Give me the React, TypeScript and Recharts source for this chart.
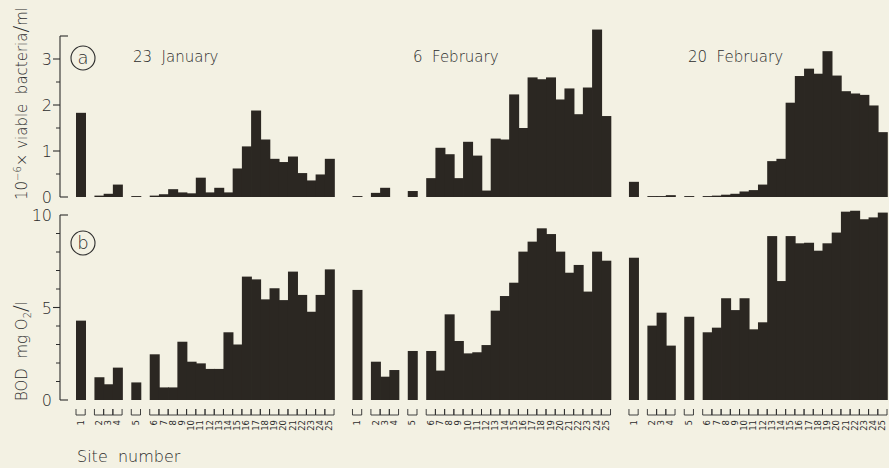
import React from 'react';
import { BarChart, Bar, XAxis, YAxis } from 'recharts';

// ---------- data ----------
const SITES = ['1','2','3','4','5','6','7','8','9','10','11','12','13','14','15','16','17','18','19','20','21','22','23','24','25'];
const DATES = ['23  January', '6  February', '20  February'];

// 10^-6 x viable bacteria / ml
const bacteriaJan23 = [1.83,0.03,0.07,0.27,0.02, 0.03,0.06,0.17,0.1,0.08,0.42,0.1,0.2,0.1,0.62,1.1,1.88,1.25,0.83,0.76,0.88,0.52,0.36,0.49,0.83];
const bacteriaFeb6 = [0.02,0.09,0.2,0,0.13, 0.41,1.07,0.93,0.41,1.2,0.9,0.14,1.27,1.25,2.23,1.5,2.6,2.56,2.6,2.12,2.36,1.8,2.38,3.64,1.76];
const bacteriaFeb20 = [0.33,0.02,0.02,0.04,0.02, 0.02,0.03,0.05,0.07,0.12,0.15,0.27,0.78,0.83,2.05,2.63,2.79,2.68,3.17,2.64,2.3,2.25,2.22,1.99,1.41];

// BOD mg O2 / l
const bodJan23 = [4.29,1.23,0.85,1.75,0.95, 2.47,0.68,0.68,3.15,2.07,1.98,1.68,1.68,3.66,3.0,6.67,6.52,5.44,6.04,5.4,6.94,5.68,4.77,5.68,7.06];
const bodFeb6 = [5.95,2.07,1.26,1.62,2.65, 2.65,1.59,4.63,3.19,2.52,2.58,2.97,4.83,5.62,6.34,8.02,8.56,9.28,8.97,8.02,6.88,7.3,5.86,8.02,7.53];
const bodFeb20 = [7.69,4.02,4.72,2.94,4.5, 3.66,3.91,5.5,4.86,5.5,3.82,4.2,8.86,6.43,8.86,8.47,8.5,8.07,8.47,9.05,10.18,10.23,9.77,9.87,10.13];

const bacteriaTicks = [0, 0.5, 1, 1.5, 2, 2.5, 3, 3.5];
const bodTicks = [0, 1, 2, 3, 4, 5, 6, 7, 8, 9, 10];

const BACTERIA = [bacteriaJan23, bacteriaFeb6, bacteriaFeb20];
const BOD = [bodJan23, bodFeb6, bodFeb20];

// ---------- build rows (gaps after sites 1, 4, 5; two blank slots between dates) ----------
type Row = { key: string; site: string | null; a: number | null; b: number | null };
const rows: Row[] = [];
const SITE_OF: Record<string, string> = {};
let gapN = 0;
const pushGap = () => { rows.push({ key: `gap${gapN++}`, site: null, a: null, b: null }); };
BACTERIA.forEach((bac, g) => {
  if (g > 0) { pushGap(); pushGap(); }
  SITES.forEach((s, i) => {
    const key = `d${g}s${s}`;
    SITE_OF[key] = s;
    rows.push({ key, site: s, a: bac[i], b: BOD[g][i] });
    if (i === 0 || i === 3 || i === 4) pushGap();
  });
});

// ---------- style / layout ----------
const BG = '#f3f1e3';
const INK = '#2b2722';
const TXT = '#2c2c2c';
const FONT = '"DejaVu Sans", "Liberation Sans", sans-serif';
const W = 889;
const AXIS_X = 60;
const PAD_LEFT = 16;

// panel a: zero at y=197, 46px per unit
const A_ZERO = 197;
const A_UNIT = 46;
const A_MAX = 3.8;
const A_H = 210;
// panel b: zero at y=400, 18.5px per unit
const B_ZERO = 400;
const B_UNIT = 18.5;
const B_MAX = 10.5;
const B_H = 468;

// bar shape: Recharts floors the bar width, so overlap slightly into the next slot to avoid seams
const SolidBar = (props: any) => {
  const { x, y, width, height } = props;
  if (!height || height <= 0 || x == null) return null;
  return <rect x={x} y={y} width={width + 1} height={height} fill={INK} />;
};

const makeYTick = (unitPx: number, top: number, isMajor: (v: number) => boolean) => (props: any) => {
  const { x, y, payload } = props;
  const v = payload.value;
  const els: any[] = [];
  if (v === 0) {
    els.push(<line key="ax" x1={x} x2={x} y1={y} y2={y - top * unitPx} stroke={TXT} strokeWidth={1.1} />);
  }
  if (v === 0 || v === top) {
    els.push(<line key="t" x1={x} x2={x + 8} y1={y} y2={y} stroke={TXT} strokeWidth={1.1} />);
  } else if (isMajor(v)) {
    els.push(<line key="t" x1={x - 7} x2={x} y1={y} y2={y} stroke={TXT} strokeWidth={1.1} />);
  } else {
    els.push(<line key="t" x1={x - 4} x2={x} y1={y} y2={y} stroke={TXT} strokeWidth={1} />);
  }
  if (isMajor(v)) {
    els.push(
      <text key="l" x={x - 8} y={y + 6} textAnchor="end" fontSize={16} fontFamily={FONT} fill={TXT} fontWeight={300}>
        {String(v)}
      </text>
    );
  }
  return <g>{els}</g>;
};

const SiteTick = (props: any) => {
  const { x, payload } = props;
  const label = SITE_OF[payload.value];
  if (!label) return null;
  const half = payload.offset || 4.6;
  const t = B_ZERO + 9;
  const b = B_ZERO + 15;
  return (
    <g>
      <path d={`M${x - half},${t} V${b} H${x + half} V${t}`} fill="none" stroke={TXT} strokeWidth={0.9} />
      <text
        x={0}
        y={0}
        transform={`translate(${x + 3},${B_ZERO + 20}) rotate(-90)`}
        textAnchor="end"
        fontSize={8.5}
        fontFamily={FONT}
        fill={TXT}
      >
        {label}
      </text>
    </g>
  );
};

export default function App() {
  const aTop = A_ZERO - A_MAX * A_UNIT;
  const bTop = B_ZERO - B_MAX * B_UNIT;
  return (
    <div style={{ position: 'absolute', left: 0, top: 0, width: W, height: 468, background: BG, overflow: 'hidden' }}>
      <div style={{ position: 'absolute', left: 0, top: 0 }}>
        <BarChart
          width={W}
          height={A_H}
          data={rows}
          margin={{ top: aTop, right: 2, bottom: A_H - A_ZERO, left: 0 }}
          barCategoryGap={0}
          barGap={0}
        >
          <XAxis dataKey="key" type="category" hide padding={{ left: PAD_LEFT, right: 0 }} />
          <YAxis
            width={AXIS_X}
            domain={[0, A_MAX]}
            ticks={bacteriaTicks}
            interval={0}
            axisLine={false}
            tickLine={false}
            tickSize={0}
            tickMargin={0}
            tick={makeYTick(A_UNIT, 3.5, (v) => Number.isInteger(v))}
          />
          <Bar dataKey="a" fill={INK} shape={SolidBar} isAnimationActive={false} />
        </BarChart>
      </div>
      <div style={{ position: 'absolute', left: 0, top: 0 }}>
        <BarChart
          width={W}
          height={B_H}
          data={rows}
          margin={{ top: bTop, right: 2, bottom: 0, left: 0 }}
          barCategoryGap={0}
          barGap={0}
        >
          <XAxis
            dataKey="key"
            type="category"
            height={B_H - B_ZERO}
            padding={{ left: PAD_LEFT, right: 0 }}
            axisLine={false}
            tickLine={false}
            tickSize={0}
            tickMargin={0}
            interval={0}
            tick={SiteTick}
          />
          <YAxis
            width={AXIS_X}
            domain={[0, B_MAX]}
            ticks={bodTicks}
            interval={0}
            axisLine={false}
            tickLine={false}
            tickSize={0}
            tickMargin={0}
            tick={makeYTick(B_UNIT, 10, (v) => v % 5 === 0)}
          />
          <Bar dataKey="b" fill={INK} shape={SolidBar} isAnimationActive={false} />
        </BarChart>
      </div>
      <svg width={W} height={468} style={{ position: 'absolute', left: 0, top: 0, pointerEvents: 'none' }}>
        <g fontFamily={FONT} fill={TXT} fontWeight={300}>
          <text transform="translate(27,200) rotate(-90)" fontSize={15} style={{ whiteSpace: 'pre' }}>
            10<tspan dy={-6} fontSize={10}>−6</tspan><tspan dy={6}>× viable  bacteria</tspan><tspan fontSize={20}>/</tspan>ml
          </text>
          <text transform="translate(27,401) rotate(-90)" fontSize={15} style={{ whiteSpace: 'pre' }}>
            BOD  mg O<tspan dy={4} fontSize={10}>2</tspan><tspan dy={-4} fontSize={20}>/</tspan>l
          </text>
          <circle cx={83} cy={58} r={12} fill="none" stroke={TXT} strokeWidth={1.1} />
          <text x={83} y={64} textAnchor="middle" fontSize={18}>a</text>
          <circle cx={83} cy={243} r={12} fill="none" stroke={TXT} strokeWidth={1.1} />
          <text x={83} y={249} textAnchor="middle" fontSize={18}>b</text>
          <text x={133} y={62} fontSize={15} style={{ whiteSpace: 'pre' }}>{DATES[0]}</text>
          <text x={413} y={62} fontSize={15} style={{ whiteSpace: 'pre' }}>{DATES[1]}</text>
          <text x={688} y={62} fontSize={15} style={{ whiteSpace: 'pre' }}>{DATES[2]}</text>
          <text x={77} y={462} fontSize={16} style={{ whiteSpace: 'pre' }}>Site  number</text>
        </g>
      </svg>
    </div>
  );
}
